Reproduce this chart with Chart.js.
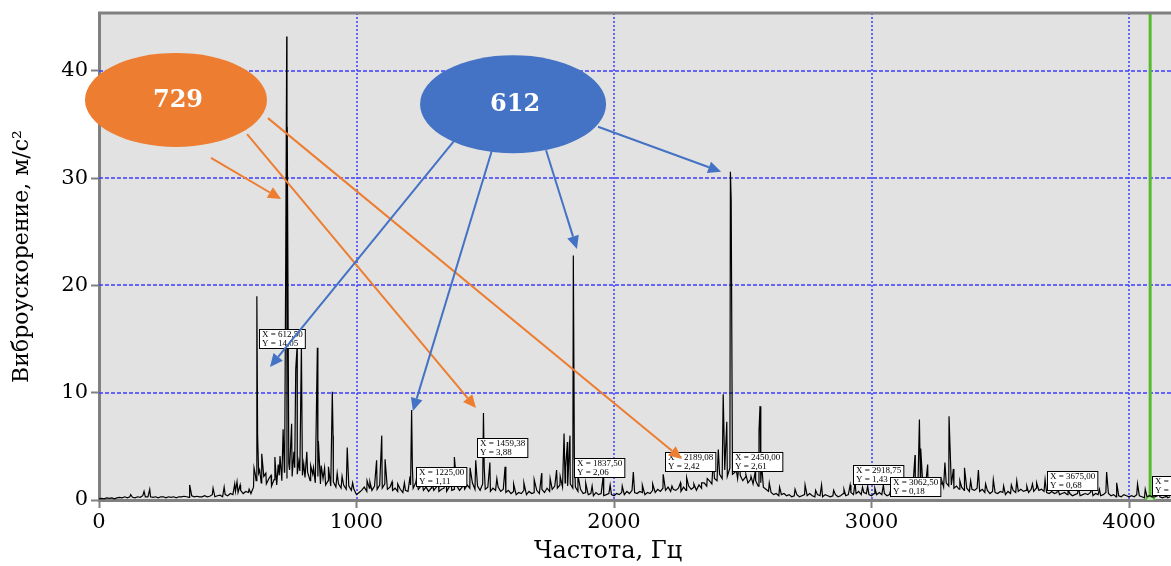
<!DOCTYPE html>
<html>
<head>
<meta charset="utf-8">
<script src="https://cdn.jsdelivr.net/npm/chart.js@4"></script>
<style>
  html, body { margin: 0; padding: 0; background: #fff; overflow: hidden; }
  #wrap { width: 1171px; height: 566px; position: relative; overflow: hidden; }
  #spectrumChart { display: block; }
</style>
</head>
<body>
<div id="wrap"><canvas id="spectrumChart" width="1171" height="566"></canvas></div>
<script>
// baseline of spectrum, one value every 10 Hz starting at 0 Hz
var baseStepHz = 10;
var baseline = [
    0.1,0.15,0.1,0.2,0.15,0.2,0.1,0.2,0.25,0.2, 0.3,0.2,0.3,0.25,0.2,0.3,0.25,0.4,0.3,0.3,
    0.3,0.25,0.3,0.2,0.3,0.3,0.2,0.3,0.25,0.3, 0.2,0.3,0.3,0.35,0.3,0.25,0.4,0.3,0.35,0.3,
    0.3,0.4,0.3,0.35,0.5,0.3,0.4,0.45,0.3,0.5, 0.4,0.6,0.5,0.8,0.7,0.9,0.6,0.8,0.7,0.6,
    1.2,1.8,2.5,1.6,2.2,1.5,2.0,1.3,1.9,1.4, 2.3,1.8,2.6,2.0,2.8,2.2,3.0,2.4,2.7,2.3,
    2.1,2.6,1.8,2.4,1.6,2.2,1.5,2.0,1.4,1.8, 1.3,1.7,1.2,1.5,1.1,1.4,1.0,1.3,0.9,1.0,
    0.5,0.7,0.9,1.2,0.8,1.1,0.9,1.3,1.0,1.4, 1.1,1.5,1.0,1.2,0.9,1.1,0.8,1.0,0.7,0.9,
    0.8,1.4,1.1,1.6,1.0,1.3,0.9,1.2,0.8,1.1, 0.9,1.2,0.8,1.0,1.1,0.8,1.2,0.9,1.0,1.3,
    0.9,1.2,1.0,1.4,1.1,1.6,1.0,1.3,0.9,1.5, 1.0,1.2,0.8,1.1,0.9,1.2,0.8,1.0,0.7,0.9,
    0.6,0.8,0.5,0.7,0.6,0.9,0.5,0.8,0.6,0.7, 0.9,0.6,1.0,0.7,1.1,0.8,1.0,1.3,1.1,1.4,
    1.2,1.6,1.3,1.5,1.1,1.2,0.8,1.0,0.6,0.7, 0.5,0.6,0.4,0.7,0.5,0.6,0.4,0.5,0.6,0.5,
    0.4,0.6,0.5,0.7,0.5,0.8,0.6,0.9,0.7,0.6, 0.8,0.7,0.5,0.7,0.6,0.9,0.7,1.0,0.8,1.1,
    0.9,1.2,0.8,1.0,0.9,1.1,0.8,1.2,0.9,1.3, 1.0,1.2,0.9,1.4,1.1,1.6,1.3,1.8,1.5,2.0,
    1.8,2.4,2.0,2.8,2.2,3.0,2.4,2.6,2.0,2.3, 1.8,2.1,1.6,1.9,1.5,1.8,1.3,1.6,1.2,1.0,
    0.8,0.7,0.5,0.6,0.4,0.5,0.6,0.4,0.5,0.3, 0.4,0.5,0.3,0.4,0.5,0.4,0.6,0.4,0.3,0.5,
    0.4,0.3,0.5,0.4,0.3,0.4,0.5,0.3,0.4,0.6, 0.4,0.5,0.7,0.5,0.6,0.8,0.5,0.7,0.6,0.5,
    0.4,0.6,0.5,0.7,0.5,0.6,0.4,0.5,0.6,0.4, 0.5,0.7,0.6,0.8,0.7,0.9,1.0,1.2,1.0,1.3,
    1.1,1.4,1.0,1.2,0.9,1.1,1.3,1.5,1.2,1.6, 1.3,1.4,1.1,1.3,1.0,1.2,0.9,1.1,0.8,1.0,
    0.9,1.1,0.8,1.0,0.7,0.9,0.6,0.8,0.7,0.6, 0.8,0.7,0.5,0.8,0.6,0.9,0.7,0.8,1.0,0.8,
    0.9,0.7,1.0,0.8,1.1,0.9,1.0,0.8,0.7,0.6, 0.8,0.6,0.7,0.5,0.6,0.7,0.5,0.6,0.4,0.5,
    0.6,0.4,0.5,0.6,0.5,0.7,0.4,0.6,0.5,0.4, 0.5,0.7,0.6,0.4,0.5,0.3,0.4,0.3,0.5,0.4,
    0.3,0.4,0.3,0.5,0.4,0.3,0.2,0.3,0.4,0.3, 0.3,0.4,0.3,0.2,0.3,0.2,0.3
];

// spectral peaks [Hz, m/s2]
var peaks = [
    [123,0.5],[175,0.8],[197,1.0],[352,1.4],[443,1.1],[486,1.2],[527,1.5],[536,1.7],[548,1.4],[583,1.0],
    [602,3.0],[607,2.4],[613,19.0],[616,6.0],[624,2.8],[632,4.3],[648,2.5],[668,2.3],[683,4.0],[696,3.3],
    [703,4.1],[715,6.6],[721,3.2],[725,21.6],[729,43.2],[731,34.8],[737,3.4],[748,7.1],[757,4.5],[764,12.2],
    [769,14.2],[776,3.6],[786,14.3],[795,3.4],[807,4.5],[822,3.2],[833,3.0],[848,14.2],[852,5.5],[863,3.2],
    [876,3.0],[891,3.1],[906,10.1],[909,6.0],[925,2.5],[944,2.2],[964,4.9],[985,1.6],
    [1041,1.8],[1052,1.7],[1078,3.7],[1098,6.0],[1111,3.8],[1138,1.7],[1160,1.5],[1186,1.6],[1208,2.2],[1214,8.4],
    [1217,3.0],[1233,2.0],[1256,1.5],[1292,1.9],[1318,1.6],[1348,2.5],[1366,2.0],[1380,4.0],[1415,1.9],[1441,3.0],
    [1463,3.7],[1493,8.1],[1496,3.0],[1518,3.5],[1545,2.0],[1577,3.1],[1610,1.5],[1650,1.6],[1690,1.9],[1719,2.5],
    [1752,2.0],[1777,2.8],[1791,2.2],[1806,6.2],[1812,3.0],[1819,5.4],[1829,6.0],[1842,22.8],[1846,4.0],[1860,2.3],
    [1890,1.6],[1915,1.3],[1958,2.2],[1985,1.4],
    [2032,1.3],[2075,2.6],[2110,1.4],[2150,1.5],[2191,2.4],[2225,1.3],[2258,1.6],[2282,2.1],[2310,1.5],[2340,1.6],
    [2362,2.0],[2386,3.9],[2405,4.7],[2424,9.85],[2429,4.0],[2438,7.3],[2452,30.6],[2455,28.0],[2470,3.6],[2489,4.2],
    [2512,2.4],[2532,2.2],[2548,2.6],[2563,6.4],[2567,8.75],[2573,3.4],[2603,1.6],[2643,1.2],[2703,1.0],[2742,1.4],
    [2783,0.9],[2806,1.4],[2853,0.9],[2893,1.0],[2917,1.4],[2936,1.6],[2965,1.2],[2985,1.3],[3013,1.1],[3046,1.4],
    [3075,1.0],[3113,1.2],[3143,1.5],[3169,4.2],[3186,7.5],[3191,4.8],[3218,3.3],[3245,1.6],[3273,1.8],[3285,3.5],
    [3301,7.8],[3305,4.9],[3318,2.9],[3343,1.8],[3361,3.0],[3385,1.8],[3415,2.8],[3443,1.5],[3473,1.9],[3513,1.3],
    [3543,1.4],[3564,1.8],[3603,1.3],[3625,1.5],[3641,1.6],[3674,1.9],[3723,1.1],[3763,1.0],[3803,1.2],[3855,1.1],
    [3885,1.0],[3913,2.6],[3952,1.6],[4033,1.5],[4063,1.0],[4113,0.6],[4143,0.5]
];

// cursor markers with their value boxes
var markerHz = [612.50, 1225.00, 1459.38, 1837.50, 2189.08, 2450.00, 2918.75, 3062.50, 3675.00, 4081.25];
var markerAmp = [14.05, 1.11, 3.88, 2.06, 2.42, 2.61, 1.43, 0.18, 0.68, 0.25];
var markerBoxTop = [15.9, 3.1, 5.75, 3.95, 4.5, 4.5, 3.3, 2.1, 2.7, 2.2];

var cursorHz = 4082;
var xTicks = [0, 1000, 2000, 3000, 4000];
var yTicks = [0, 10, 20, 30, 40];
var xMax = 4163;
var yMax = 45.4;

// callouts: [label, centerHz, centerAmp]
var callout729 = ['729', 299, 37.3];
var callout612 = ['612', 1608, 36.9];
// arrows: [fromHz, fromAmp, toHz, toAmp]
var arrows729 = [[435, 31.9, 707, 28.05], [575, 34.1, 1464, 8.57], [656, 35.6, 2264, 3.82]];
var arrows612 = [[1383, 33.6, 664, 12.4], [1526, 32.6, 1219, 8.29], [1736, 32.6, 1856, 23.4], [1938, 34.8, 2416, 30.6]];

//build the line points
var lsPoints = [];
$each = function (arr, fn) { for (var i = 0; i < arr.length; i++) fn(i, arr[i]); };
$each(baseline, function (i, v) { lsPoints.push({ x: i * baseStepHz, y: v }); });
$each(peaks, function (i, p) { lsPoints.push({ x: p[0], y: p[1] }); });
lsPoints.sort(function (a, b) { return a.x - b.x; });

var ORANGE = '#ed7d31';
var BLUE = '#4472c4';
var GRID_BLUE = '#3c3cff';
var AXIS_GRAY = '#808080';
var SERIF = "'DejaVu Serif', 'Liberation Serif', serif";

function fmt(v) { return v.toFixed(2).replace('.', ','); }

function drawArrow(ctx, x1, y1, x2, y2, color) {
    var ang = Math.atan2(y2 - y1, x2 - x1);
    var len = 13, half = 6;
    var bx = x2 - len * Math.cos(ang), by = y2 - len * Math.sin(ang);
    ctx.strokeStyle = color;
    ctx.fillStyle = color;
    ctx.lineWidth = 2;
    ctx.beginPath();
    ctx.moveTo(x1, y1);
    ctx.lineTo(bx, by);
    ctx.stroke();
    ctx.beginPath();
    ctx.moveTo(x2, y2);
    ctx.lineTo(bx + half * Math.sin(ang), by - half * Math.cos(ang));
    ctx.lineTo(bx - half * Math.sin(ang), by + half * Math.cos(ang));
    ctx.closePath();
    ctx.fill();
}

function drawCallout(ctx, xs, ys, c, rx, ry, color) {
    var cx = xs.getPixelForValue(c[1]), cy = ys.getPixelForValue(c[2]);
    ctx.fillStyle = color;
    ctx.beginPath();
    ctx.ellipse(cx, cy, rx, ry, 0, 0, Math.PI * 2);
    ctx.fill();
    ctx.fillStyle = '#fff';
    ctx.font = "bold 24px " + SERIF;
    ctx.textAlign = 'center';
    ctx.textBaseline = 'middle';
    ctx.fillText(c[0], cx + 2, cy + 1);
}

var plotBgPlugin = {
    id: 'plotBg',
    beforeDraw: function (chart) {
        var ctx = chart.ctx, a = chart.chartArea;
        ctx.save();
        ctx.fillStyle = '#e2e2e2';
        ctx.fillRect(a.left, a.top, a.right - a.left, a.bottom - a.top);
        ctx.restore();
    },
    beforeDatasetsDraw: function (chart) {
        //lưới: ngang gạch, dọc chấm
        var ctx = chart.ctx, a = chart.chartArea;
        var xs = chart.scales.x, ys = chart.scales.y;
        ctx.save();
        ctx.strokeStyle = GRID_BLUE;
        ctx.lineWidth = 1.5;
        ctx.setLineDash([4, 2]);
        $each(yTicks, function (i, v) {
            if (v === 0) return;
            var py = Math.round(ys.getPixelForValue(v));
            ctx.beginPath();
            ctx.moveTo(a.left, py);
            ctx.lineTo(a.right, py);
            ctx.stroke();
        });
        ctx.setLineDash([2, 2]);
        $each(xTicks, function (i, v) {
            if (v === 0) return;
            var px = Math.round(xs.getPixelForValue(v));
            ctx.beginPath();
            ctx.moveTo(px, a.top);
            ctx.lineTo(px, a.bottom);
            ctx.stroke();
        });
        ctx.restore();
    },
    afterDraw: function (chart) {
        var ctx = chart.ctx, a = chart.chartArea;
        var xs = chart.scales.x, ys = chart.scales.y;
        ctx.save();
        // top frame
        ctx.strokeStyle = AXIS_GRAY;
        ctx.lineWidth = 3;
        ctx.beginPath();
        ctx.moveTo(a.left - 1, a.top);
        ctx.lineTo(a.right, a.top);
        ctx.stroke();

        // value boxes
        ctx.font = "9px 'Liberation Serif', serif";
        ctx.textAlign = 'left';
        ctx.textBaseline = 'top';
        $each(markerHz, function (i, hz) {
            var l1 = 'X = ' + fmt(hz), l2 = 'Y = ' + fmt(markerAmp[i]);
            var w = Math.max(ctx.measureText(l1).width, ctx.measureText(l2).width) + 5;
            var bx = Math.round(xs.getPixelForValue(hz)) + 2.5;
            var by = Math.round(ys.getPixelForValue(markerBoxTop[i])) + 0.5;
            ctx.fillStyle = '#fff';
            ctx.fillRect(bx, by, w, 19);
            ctx.strokeStyle = '#000';
            ctx.lineWidth = 1;
            ctx.strokeRect(bx, by, w, 19);
            ctx.fillStyle = '#000';
            ctx.fillText(l1, bx + 2.5, by + 1);
            ctx.fillText(l2, bx + 2.5, by + 10);
        });

        // callouts
        drawCallout(ctx, xs, ys, callout729, 91, 47, ORANGE);
        drawCallout(ctx, xs, ys, callout612, 93, 49, BLUE);
        $each(arrows729, function (i, r) {
            drawArrow(ctx, xs.getPixelForValue(r[0]), ys.getPixelForValue(r[1]),
                xs.getPixelForValue(r[2]), ys.getPixelForValue(r[3]), ORANGE);
        });
        $each(arrows612, function (i, r) {
            drawArrow(ctx, xs.getPixelForValue(r[0]), ys.getPixelForValue(r[1]),
                xs.getPixelForValue(r[2]), ys.getPixelForValue(r[3]), BLUE);
        });

        // axis titles
        ctx.fillStyle = '#000';
        ctx.font = "24px " + SERIF;
        ctx.textAlign = 'center';
        ctx.textBaseline = 'middle';
        ctx.fillText('Частота, Гц', 608, 552);
        ctx.font = "22px " + SERIF;
        ctx.translate(22, (a.top + a.bottom) / 2);
        ctx.rotate(-Math.PI / 2);
        ctx.fillText('Виброускорение, м/с²', 0, 0);
        ctx.restore();
    }
};

var ctx__sp = document.getElementById('spectrumChart');
var spectrum_Chart = new Chart(ctx__sp, {
    type: 'line',
    data: {
        datasets: [
            {
                label: 'spectrum',
                data: lsPoints,
                borderColor: '#000',
                borderWidth: 1.2,
                pointRadius: 0,
                tension: 0,
                fill: false
            },
            {
                label: 'cursor',
                data: [{ x: cursorHz, y: 0 }, { x: cursorHz, y: yMax }],
                borderColor: '#55bb2e',
                borderWidth: 3,
                pointRadius: [4, 0],
                pointBorderWidth: 2,
                pointBorderColor: '#55bb2e',
                pointBackgroundColor: '#b8e0a8',
                fill: false
            }
        ]
    },
    options: {
        responsive: false,
        animation: false,
        events: [],
        layout: { autoPadding: false, padding: { top: 13, left: 0, right: 0, bottom: 0 } },
        plugins: { legend: { display: false }, tooltip: { enabled: false } },
        scales: {
            x: {
                type: 'linear',
                min: 0,
                max: xMax,
                afterBuildTicks: function (scale) { scale.ticks = xTicks.map(function (v) { return { value: v }; }); },
                afterFit: function (scale) { scale.height = 66; scale.paddingLeft = 0; scale.paddingRight = 0; },
                ticks: {
                    color: '#000', font: { family: SERIF, size: 21 }, padding: 2, maxRotation: 0,
                    callback: function (v) { return String(v); }
                },
                grid: { drawOnChartArea: false, tickLength: 8, tickColor: AXIS_GRAY, tickWidth: 2 },
                border: { color: AXIS_GRAY, width: 3 }
            },
            y: {
                min: 0,
                max: yMax,
                afterBuildTicks: function (scale) { scale.ticks = yTicks.map(function (v) { return { value: v }; }); },
                afterFit: function (scale) { scale.width = 99; scale.paddingTop = 0; scale.paddingBottom = 0; },
                ticks: { color: '#000', font: { family: SERIF, size: 21 }, padding: 3 },
                grid: { drawOnChartArea: false, tickLength: 8, tickColor: AXIS_GRAY, tickWidth: 2 },
                border: { color: AXIS_GRAY, width: 3 }
            }
        }
    },
    plugins: [plotBgPlugin]
});
</script>
</body>
</html>
